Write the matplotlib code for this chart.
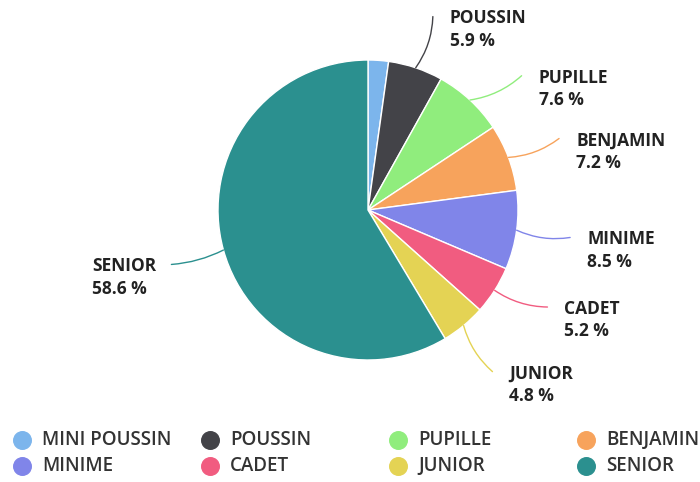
import numpy as np
import matplotlib.pyplot as plt

# ---------- data ----------
categories = ["MINI POUSSIN", "POUSSIN", "PUPILLE", "BENJAMIN",
              "MINIME", "CADET", "JUNIOR", "SENIOR"]
shares = [2.2, 5.9, 7.6, 7.2, 8.5, 5.2, 4.8, 58.6]
show_label = [False, True, True, True, True, True, True, True]
colors = ["#7cb5ec", "#434348", "#90ed7d", "#f7a35c",
          "#8085e9", "#f15c80", "#e4d354", "#2b908f"]
# small angular nudges (deg) so labels spread like the original
label_nudge = [0, 0, 6, 0, 0, -4, 2, 0]

plt.rcParams.update({
    "font.family": ["Open Sans", "DejaVu Sans"],
    "text.color": "#222222",
})

W, H = 700, 482
fig = plt.figure(figsize=(W / 100, H / 100), dpi=100)
ax = fig.add_axes([0, 0, 1, 1])

cx, cy, r = 368, H - 210, 150
wedges, _ = ax.pie(shares, colors=colors, startangle=90, counterclock=False,
                   center=(cx, cy), radius=r,
                   wedgeprops=dict(edgecolor="white", linewidth=1))
ax.set_xlim(0, W)
ax.set_ylim(0, H)
ax.set_aspect("equal")
ax.axis("off")

# ---------- data labels with connectors ----------
total = sum(shares)
cum = 0
for name, v, col, show, nd in zip(categories, shares, colors, show_label, label_nudge):
    mid = (cum + v / 2) / total * 2 * np.pi   # clockwise from top
    cum += v
    if not show:
        continue
    lab = mid + np.radians(nd)
    sx, sy = cx + r * np.sin(mid), cy + r * np.cos(mid)
    ex, ey = cx + 204 * np.sin(lab), cy + 204 * np.cos(lab)
    right = np.sin(mid) >= 0
    ax.annotate("", xy=(ex, ey), xytext=(sx, sy),
                arrowprops=dict(arrowstyle="-", color=col, lw=1,
                                shrinkA=0, shrinkB=0,
                                connectionstyle="arc3,rad=%.2f" % (0.15 if right else -0.1)))
    tx = ex + 17 if right else ex - 15
    ax.text(tx, ey - 13, f"{name}\n{v:.1f} %", ha="left" if right else "right",
            multialignment="left", va="center", fontsize=12.5,
            fontweight="bold", linespacing=1.3, color="#222222")

# ---------- legend ----------
for i, (name, col) in enumerate(zip(categories, colors)):
    col_i, row_i = i % 4, i // 4
    lx = 22 + col_i * 188
    ly = H - (440 + row_i * 26)
    ax.scatter([lx], [ly], s=160, color=col, zorder=3, clip_on=False)
    ax.text(lx + 20, ly, name, ha="left", va="center", fontsize=13.5,
            color="#333333", fontweight="semibold")

fig.savefig("out.png", dpi=100)
